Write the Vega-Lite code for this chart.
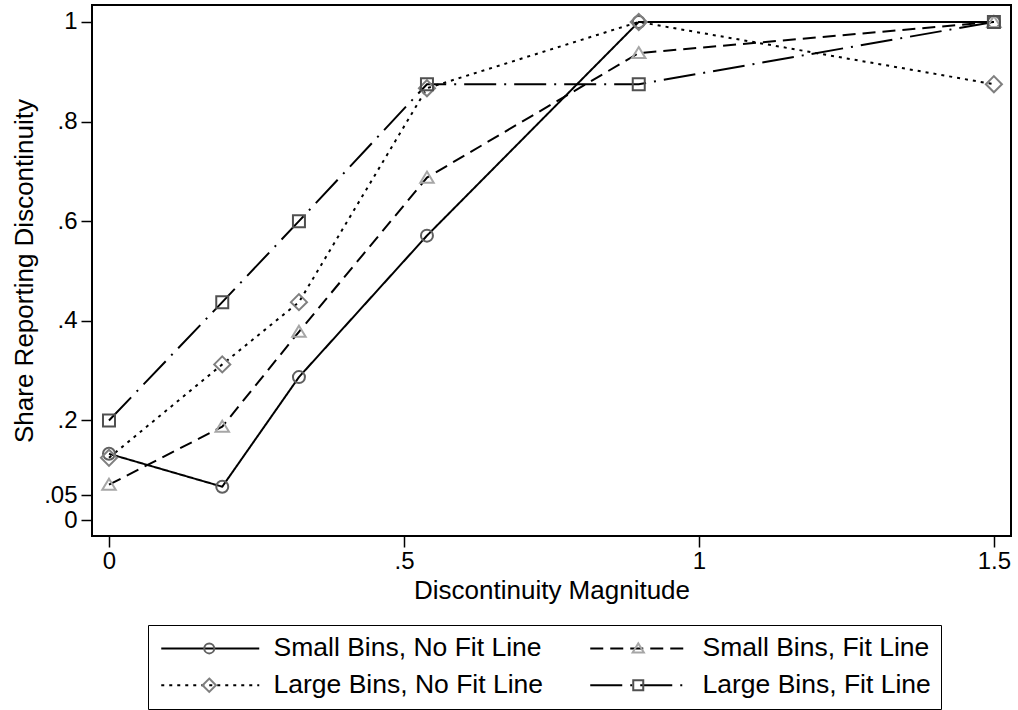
{
  "$schema": "https://vega.github.io/schema/vega-lite/v6.json",
  "autosize": "none",
  "width": 919,
  "height": 531,
  "padding": {"left": 92, "top": 5, "right": 7, "bottom": 174},
  "background": "white",
  "config": {
    "font": "Liberation Sans",
    "view": {"stroke": "black", "strokeWidth": 2},
    "axis": {
      "domain": false,
      "grid": false,
      "ticks": true,
      "tickColor": "black",
      "tickWidth": 1.5,
      "tickSize": 11,
      "labelColor": "black",
      "labelFontSize": 24,
      "labelFont": "Liberation Sans",
      "titleFont": "Liberation Sans",
      "titleFontSize": 26,
      "titleFontWeight": "normal",
      "titleColor": "black"
    }
  },
  "data": {
    "values": [
      {"series": "Small Bins, No Fit Line", "x": 0, "y": 0.133},
      {"series": "Small Bins, No Fit Line", "x": 0.192, "y": 0.067},
      {"series": "Small Bins, No Fit Line", "x": 0.322, "y": 0.287},
      {"series": "Small Bins, No Fit Line", "x": 0.539, "y": 0.571},
      {"series": "Small Bins, No Fit Line", "x": 0.898, "y": 1.0},
      {"series": "Small Bins, No Fit Line", "x": 1.5, "y": 1.0},
      {"series": "Small Bins, Fit Line", "x": 0, "y": 0.071},
      {"series": "Small Bins, Fit Line", "x": 0.192, "y": 0.1875},
      {"series": "Small Bins, Fit Line", "x": 0.322, "y": 0.378},
      {"series": "Small Bins, Fit Line", "x": 0.539, "y": 0.6875},
      {"series": "Small Bins, Fit Line", "x": 0.898, "y": 0.9375},
      {"series": "Small Bins, Fit Line", "x": 1.5, "y": 1.0},
      {"series": "Large Bins, No Fit Line", "x": 0, "y": 0.125},
      {"series": "Large Bins, No Fit Line", "x": 0.192, "y": 0.3125},
      {"series": "Large Bins, No Fit Line", "x": 0.322, "y": 0.4375},
      {"series": "Large Bins, No Fit Line", "x": 0.539, "y": 0.867},
      {"series": "Large Bins, No Fit Line", "x": 0.898, "y": 1.0},
      {"series": "Large Bins, No Fit Line", "x": 1.5, "y": 0.875},
      {"series": "Large Bins, Fit Line", "x": 0, "y": 0.2},
      {"series": "Large Bins, Fit Line", "x": 0.192, "y": 0.4375},
      {"series": "Large Bins, Fit Line", "x": 0.322, "y": 0.6},
      {"series": "Large Bins, Fit Line", "x": 0.539, "y": 0.875},
      {"series": "Large Bins, Fit Line", "x": 0.898, "y": 0.875},
      {"series": "Large Bins, Fit Line", "x": 1.5, "y": 1.0}
    ]
  },
  "encoding": {
    "x": {
      "field": "x",
      "type": "quantitative",
      "scale": {"domain": [-0.0288, 1.529], "nice": false, "zero": false},
      "axis": {
        "values": [0, 0.5, 1, 1.5],
        "format": "~g",
        "labelExpr": "replace(datum.label, /^0\\./, '.')",
        "labelPadding": 2,
        "title": "Discontinuity Magnitude",
        "titlePadding": 4
      }
    },
    "y": {
      "field": "y",
      "type": "quantitative",
      "scale": {"domain": [-0.032, 1.034], "nice": false, "zero": false},
      "axis": {
        "values": [0, 0.05, 0.2, 0.4, 0.6, 0.8, 1],
        "format": "~g",
        "labelExpr": "replace(datum.label, /^0\\./, '.')",
        "labelPadding": 4,
        "title": "Share Reporting Discontinuity",
        "titlePadding": 6
      }
    }
  },
  "layer": [
    {
      "mark": {"type": "line", "color": "black", "strokeWidth": 2},
      "encoding": {
        "strokeDash": {
          "field": "series",
          "type": "nominal",
          "sort": ["Small Bins, No Fit Line", "Small Bins, Fit Line", "Large Bins, No Fit Line", "Large Bins, Fit Line"],
          "scale": {"range": [[1, 0], [13, 7], [3, 5], [32, 8, 2, 8]]},
          "legend": {
            "orient": "none",
            "direction": "horizontal",
            "legendX": 56,
            "legendY": 620,
            "columns": 2,
            "title": null,
            "symbolType": "M-1,0H8.8",
            "symbolSize": 400,
            "symbolStrokeWidth": 2,
            "symbolStrokeColor": "black",
            "labelFontSize": 26.5,
            "labelFont": "Liberation Sans",
            "labelColor": "black",
            "labelOffset": 89,
            "labelLimit": 0,
            "labelExpr": "indexof(datum.label, 'No Fit') < 0 ? datum.label + '      ' : datum.label",
            "columnPadding": 42,
            "rowPadding": 10,
            "padding": 10,
            "strokeColor": "black",
            "fillColor": "white"
          }
        }
      }
    },
    {
      "mark": {"type": "point", "filled": false, "strokeWidth": 2, "size": 576, "opacity": 1},
      "encoding": {
        "shape": {
          "field": "series",
          "type": "nominal",
          "scale": {
            "domain": ["Small Bins, No Fit Line", "Small Bins, Fit Line", "Large Bins, No Fit Line", "Large Bins, Fit Line"],
            "range": [
              "M0.5,0A0.5,0.5,0,1,1,-0.5,0A0.5,0.5,0,1,1,0.5,0Z",
              "M0,-0.5L0.56,0.42L-0.56,0.42Z",
              "M0,-0.67L0.67,0L0,0.67L-0.67,0Z",
              "M-0.5,-0.5H0.5V0.5H-0.5Z"
            ]
          },
          "legend": {
            "orient": "none",
            "direction": "horizontal",
            "legendX": 56,
            "legendY": 620,
            "columns": 2,
            "title": null,
            "symbolSize": 400,
            "symbolStrokeWidth": 2,
            "symbolOffset": 38,
            "labelFontSize": 26.5,
            "labelFont": "Liberation Sans",
            "labelOffset": 89,
            "labelLimit": 0,
            "labelExpr": "''",
            "columnPadding": 275,
            "rowPadding": 10,
            "padding": 10
          }
        },
        "color": {
          "field": "series",
          "type": "nominal",
          "scale": {
            "domain": ["Small Bins, No Fit Line", "Small Bins, Fit Line", "Large Bins, No Fit Line", "Large Bins, Fit Line"],
            "range": ["#606060", "#a6a6a6", "#7f7f7f", "#505050"]
          },
          "legend": {
            "orient": "none",
            "direction": "horizontal",
            "legendX": 56,
            "legendY": 620,
            "columns": 2,
            "title": null,
            "symbolSize": 400,
            "symbolStrokeWidth": 2,
            "symbolOffset": 38,
            "labelFontSize": 26.5,
            "labelFont": "Liberation Sans",
            "labelOffset": 89,
            "labelLimit": 0,
            "labelExpr": "''",
            "columnPadding": 275,
            "rowPadding": 10,
            "padding": 10
          }
        }
      }
    }
  ]
}
